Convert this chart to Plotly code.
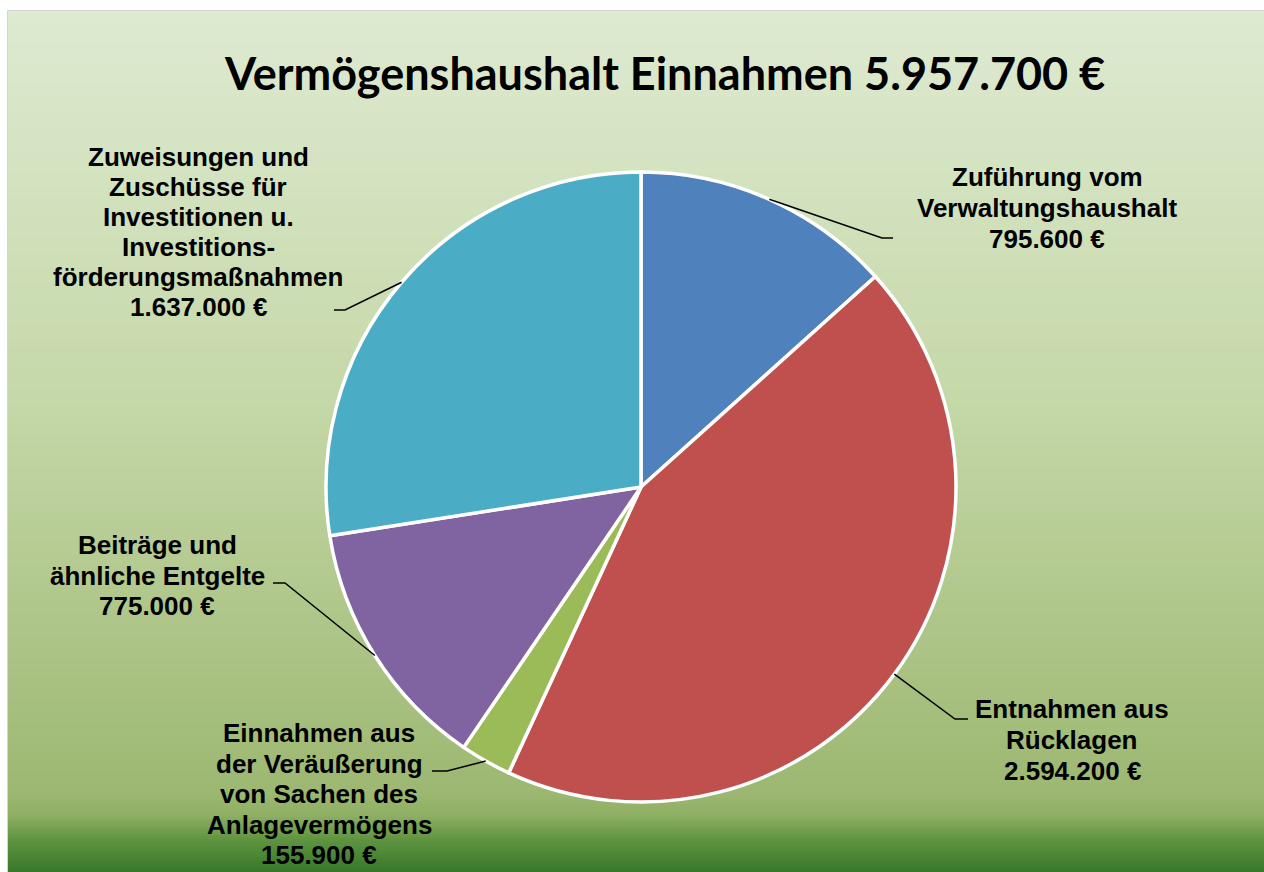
import math
import plotly.graph_objects as go

# --- data -------------------------------------------------------------
categories = [
    "Zuführung vom Verwaltungshaushalt",
    "Entnahmen aus Rücklagen",
    "Einnahmen aus der Veräußerung von Sachen des Anlagevermögens",
    "Beiträge und ähnliche Entgelte",
    "Zuweisungen und Zuschüsse für Investitionen u. Investitionsförderungsmaßnahmen",
]
values = [795600, 2594200, 155900, 775000, 1637000]
label_lines = [
    ["Zuführung vom", "Verwaltungshaushalt"],
    ["Entnahmen aus", "Rücklagen"],
    ["Einnahmen aus", "der Veräußerung", "von Sachen des", "Anlagevermögens"],
    ["Beiträge und", "ähnliche Entgelte"],
    ["Zuweisungen und", "Zuschüsse für", "Investitionen u.", "Investitions-", "förderungsmaßnahmen"],
]
slice_colors = ["#4F81BD", "#C0504D", "#9BBB59", "#8064A2", "#4BACC6"]

# --- canvas geometry (pixels) -----------------------------------------
W, H = 1264, 872
CX, CY, R = 641, 487, 315

# label blocks: text centre x, first line centre y, line pitch,
# leader elbow (x, y) and leader end x
label_layout = [
    dict(x=1047, y0=177, pitch=31, elbow=(882, 238), end=893),
    dict(x=1072, y0=709, pitch=31, elbow=(955, 719), end=968),
    dict(x=319, y0=733, pitch=30.5, elbow=(447, 771), end=432),
    dict(x=157, y0=545, pitch=30.5, elbow=(285, 583), end=273),
    dict(x=198, y0=157, pitch=30, elbow=(345, 310), end=334),
]


def px(x):
    return x / W


def py(y):
    return 1 - y / H


def euro(v):
    return f"{v:,}".replace(",", ".") + " €"


fig = go.Figure()

fig.add_trace(go.Pie(
    labels=categories,
    values=values,
    sort=False,
    direction="clockwise",
    rotation=0,
    textinfo="none",
    hoverinfo="label+value+percent",
    marker=dict(colors=slice_colors, line=dict(color="white", width=3.5)),
    domain=dict(x=[px(CX - R), px(CX + R)], y=[py(CY + R), py(CY - R)]),
    showlegend=False,
))

shapes = []

# background: vertical green gradient
stops = [
    (11, (222, 234, 209)),
    (400, (197, 216, 168)),
    (790, (157, 184, 114)),
    (815, (143, 176, 100)),
    (840, (94, 148, 64)),
    (872, (55, 120, 42)),
]


def grad_color(y):
    for (ya, ca), (yb, cb) in zip(stops[:-1], stops[1:]):
        if ya <= y <= yb:
            t = (y - ya) / (yb - ya)
            c = [round(a + (b - a) * t) for a, b in zip(ca, cb)]
            return f"rgb({c[0]},{c[1]},{c[2]})"
    c = stops[-1][1]
    return f"rgb({c[0]},{c[1]},{c[2]})"


step = 2
y = 11
while y < H:
    shapes.append(dict(
        type="rect", xref="paper", yref="paper", layer="below",
        x0=px(8), x1=1, y0=py(min(y + step + 1, H)), y1=py(y),
        fillcolor=grad_color(y + step / 2), line=dict(width=0),
    ))
    y += step

# chart frame
shapes.append(dict(
    type="rect", xref="paper", yref="paper", layer="below",
    x0=px(7.5), x1=1.01, y0=-0.01, y1=py(10.5),
    line=dict(color="#D4D4D4", width=1), fillcolor="rgba(0,0,0,0)",
))

# leader lines from the middle of each slice's outer edge
total = sum(values)
annotations = []
cum = 0
for v, lines, lay in zip(values, label_lines, label_layout):
    mid = (cum + v / 2) / total * 2 * math.pi
    cum += v
    sx = CX + R * math.sin(mid)
    sy = CY - R * math.cos(mid)
    ex, ey = lay["elbow"]
    path = (f"M {px(sx)},{py(sy)} L {px(ex)},{py(ey)} "
            f"L {px(lay['end'])},{py(ey)}")
    shapes.append(dict(type="path", xref="paper", yref="paper", path=path,
                       line=dict(color="black", width=1.5)))
    for i, txt in enumerate(lines + [euro(v)]):
        annotations.append(dict(
            x=px(lay["x"]), y=py(lay["y0"] + i * lay["pitch"]),
            xref="paper", yref="paper", xanchor="center", yanchor="middle",
            text=f"<b>{txt}</b>", showarrow=False, borderpad=0,
            font=dict(family="Liberation Sans, Arial, sans-serif", size=26, color="black"),
        ))

annotations.append(dict(
    x=px(664), y=py(73), xref="paper", yref="paper",
    xanchor="center", yanchor="middle",
    text=f"<b>Vermögenshaushalt Einnahmen {euro(total)}</b>", showarrow=False,
    font=dict(family="Lato, Calibri, sans-serif", size=45, color="black"),
))

fig.update_layout(
    width=W, height=H,
    margin=dict(l=0, r=0, t=0, b=0),
    paper_bgcolor="white",
    plot_bgcolor="rgba(0,0,0,0)",
    showlegend=False,
    shapes=shapes,
    annotations=annotations,
)

fig.write_html("out.html")
